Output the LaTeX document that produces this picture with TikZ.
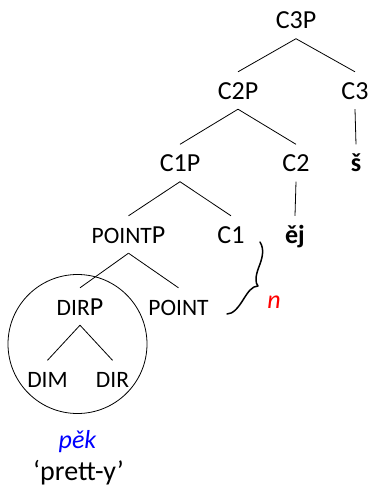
\documentclass[tikz,border=0pt]{standalone}
\usepackage{fontspec}
\setmainfont{Carlito}
\newcommand\smallcapsize[1]{{\fontsize{23.5}{23.5}\selectfont #1}}
\tikzset{
  lbl/.style={font=\fontsize{26}{30}\selectfont, inner xsep=0pt, inner ysep=10pt,
              text height=17pt, text depth=0pt, anchor=base},
  branch/.style={line width=0.8pt},
  bracestroke/.style={line width=1.5pt, line cap=round, line join=round},
}
\begin{document}
\begin{tikzpicture}[x=1pt, y=-1pt]
\useasboundingbox (0,0) rectangle (371,491);

% tree labels (positioned by baseline)
\node[lbl] (c3p) at (296,28.5) {C3P};
\node[lbl] (c2p) at (238,99) {C2P};
\node[lbl] (c3) at (355,99) {C3};
\node[lbl] (sh) at (356,171.5) {\textbf{š}};
\node[lbl] (c1p) at (180,171.5) {C1P};
\node[lbl] (c2) at (296,171.5) {C2};
\node[lbl] (ej) at (295,243) {\textbf{ěj}};
\node[lbl] (pointp) at (128.5,243) {\smallcapsize{POINT}P};
\node[lbl] (c1) at (231,243) {C1};
\node[lbl] (dirp) at (80,315) {\smallcapsize{DIR}P};
\node[lbl] (point) at (178.5,315) {\smallcapsize{POINT}};
\node[lbl] (dim) at (47.5,387.5) {\smallcapsize{DIM}};
\node[lbl] (dir) at (112.5,387.5) {\smallcapsize{DIR}};

% branches
\draw[branch] (c3p.south) -- (c2p.north);
\draw[branch] (c3p.south) -- (c3.north);
\draw[branch] (c3.south) -- (sh.north);
\draw[branch] (c2p.south) -- (c1p.north);
\draw[branch] (c2p.south) -- (c2.north);
\draw[branch] (c2.south) -- (ej.north);
\draw[branch] (c1p.south) -- (pointp.north);
\draw[branch] (c1p.south) -- (c1.north);
\draw[branch] (pointp.south) -- (dirp.north);
\draw[branch] (pointp.south) -- (point.north);
\draw[branch] (dirp.south) -- (dim.north);
\draw[branch] (dirp.south) -- (dir.north);

% circle round the DIRP constituent
\node[draw, circle, line width=0.8pt, minimum size=139pt, inner sep=0pt] (grp) at (77.5,344) {};

% gloss below the circle
\node[lbl, font=\fontsize{26}{30}\selectfont\itshape, text=blue] (pek) at (77.5,448) {pěk};
\node[lbl, font=\fontsize{28}{32}\selectfont] (gloss) at (78.5,480) {‘prett-y’};

% curly brace linking C1 and POINT, with its label
\draw[bracestroke] (260,242) .. controls (265,250) and (262,259) .. (258.5,268)
  .. controls (255.5,276) and (255,283) .. (258,286)
  .. controls (252,286) and (248,292) .. (243,300)
  .. controls (238,308) and (233,314) .. (227,314);
\node[lbl, font=\fontsize{26}{30}\selectfont\itshape, text=red] (n) at (274,308) {n};
\end{tikzpicture}
\end{document}
